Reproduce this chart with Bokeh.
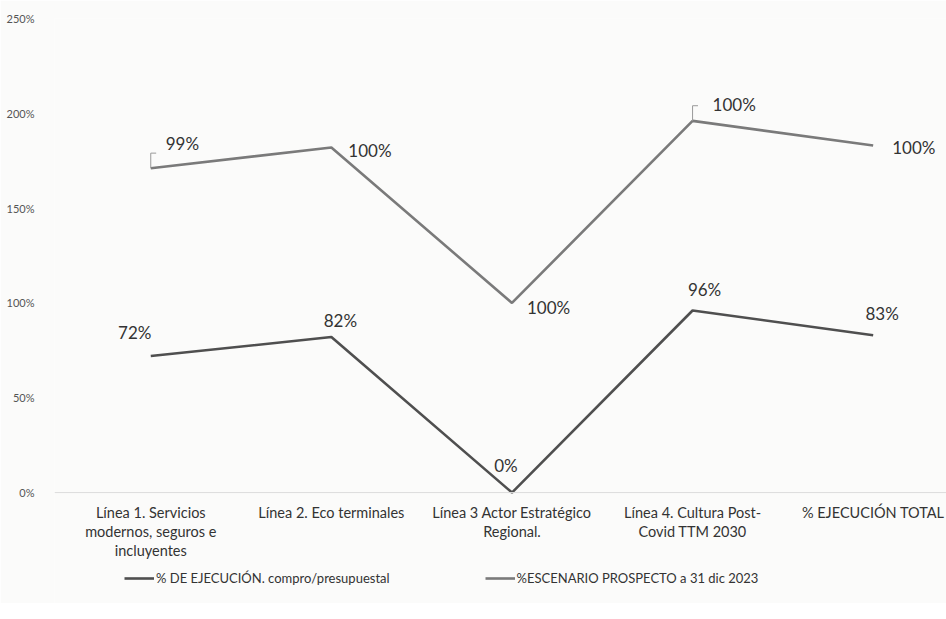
from bokeh.plotting import figure
from bokeh.models import Range1d, FixedTicker, Legend, LegendItem, ColumnDataSource, Span
from bokeh.core.properties import value
from bokeh.embed import file_html
from bokeh.resources import INLINE

categories = [
    "Línea 1. Servicios\nmodernos, seguros e\nincluyentes",
    "Línea 2. Eco terminales",
    "Línea 3 Actor Estratégico\nRegional.",
    "Línea 4. Cultura Post-\nCovid TTM 2030",
    "% EJECUCIÓN TOTAL",
]
ejecucion = [72, 82, 0, 96, 83]          # % DE EJECUCIÓN. compro/presupuestal
escenario = [99, 100, 100, 100, 100]     # %ESCENARIO PROSPECTO a 31 dic 2023
y_ticks = [0, 50, 100, 150, 200, 250]
y_tick_labels = ["0%", "50%", "100%", "150%", "200%", "250%"]

FONT = "Lato"
x = list(range(len(categories)))
stacked = [a + b for a, b in zip(ejecucion, escenario)]

p = figure(width=946, height=603, output_backend="svg", toolbar_location=None,
           x_range=Range1d(-0.533, 4.406), y_range=Range1d(-58.5, 250),
           x_axis_location=None,
           min_border_left=54, min_border_right=0, min_border_top=18, min_border_bottom=0)
p.background_fill_color = "#fbfbfa"
p.border_fill_color = "#fbfbfa"
p.outline_line_color = None
p.xgrid.grid_line_color = None
p.ygrid.grid_line_color = None

p.yaxis.ticker = FixedTicker(ticks=y_ticks)
p.yaxis.major_label_overrides = {t: l for t, l in zip(y_ticks, y_tick_labels)}
p.yaxis.axis_line_color = None
p.yaxis.major_tick_line_color = None
p.yaxis.minor_tick_line_color = None
p.yaxis.major_label_text_font = FONT
p.yaxis.major_label_text_font_size = "11px"
p.yaxis.major_label_text_color = "#555555"
p.yaxis.major_label_standoff = 14

# faint category-axis baseline
p.add_layout(Span(location=0, dimension="width", line_color="#dcdcdc", line_width=1))

# category labels under the baseline
p.text(x, [0] * len(x), text=categories, y_offset=11,
       text_font=value(FONT), text_font_size="14.5px", text_color="#333333",
       text_align="center", text_baseline="top", text_line_height=1.14)

src = ColumnDataSource(dict(x=x, ej=ejecucion, st=stacked))
r1 = p.line("x", "ej", source=src, line_color="#4f4f4f", line_width=2.6)
r2 = p.line("x", "st", source=src, line_color="#7a7a7a", line_width=2.6)

# leader lines for two labels of the upper series
for i in (0, 3):
    p.line([x[i], x[i]], [stacked[i], stacked[i] + 8], line_color="#999999", line_width=1)
    p.line([x[i], x[i] + 0.03], [stacked[i] + 8, stacked[i] + 8], line_color="#999999", line_width=1)

low_dx = [-16, 9, -6, 12, 9]
low_dy = [24, 17, 27, 21, 22]
for i in x:
    p.text([x[i]], [ejecucion[i]], text=[f"{ejecucion[i]}%"], x_offset=low_dx[i], y_offset=-low_dy[i],
           text_font=value(FONT), text_font_size="17px", text_color="#333333",
           text_align="center", text_baseline="middle")

up_dx = [15, 17, 15, 20, 19]
up_dy = [-25, 3, 5, -16, 2]
for i in x:
    p.text([x[i]], [stacked[i]], text=[f"{escenario[i]}%"], x_offset=up_dx[i], y_offset=up_dy[i],
           text_font=value(FONT), text_font_size="17px", text_color="#333333",
           text_align="left", text_baseline="middle")

legend = Legend(items=[
    LegendItem(label="% DE EJECUCIÓN. compro/presupuestal", renderers=[r1]),
    LegendItem(label="%ESCENARIO PROSPECTO a 31 dic 2023", renderers=[r2]),
], orientation="horizontal", location=(70, 15))
legend.label_text_font = FONT
legend.label_text_font_size = "13px"
legend.label_text_color = "#333333"
legend.border_line_color = None
legend.background_fill_alpha = 0
legend.glyph_width = 30
legend.spacing = 95
legend.label_standoff = 2
legend.margin = 0
legend.padding = 4
p.add_layout(legend)

open("out.html", "w").write(file_html(p, INLINE))
